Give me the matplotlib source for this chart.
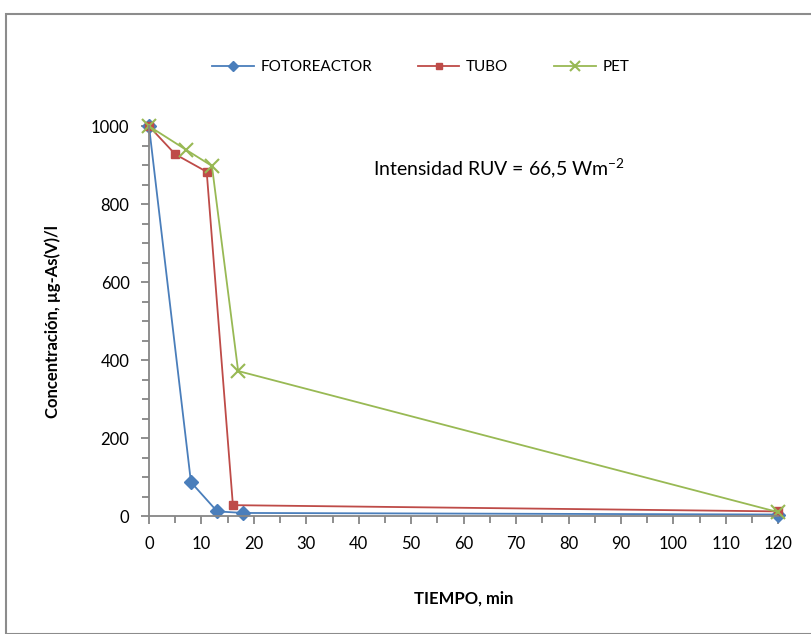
import matplotlib
matplotlib.use('Agg')
import matplotlib.pyplot as plt
from matplotlib.patches import Rectangle
from matplotlib.ticker import MultipleLocator

plt.rcParams['font.family'] = ['Lato', 'DejaVu Sans']

# data
t_foto = [0, 8, 13, 18, 120]
c_foto = [1000, 87, 12, 8, 4]
t_tubo = [0, 5, 11, 16, 120]
c_tubo = [1000, 928, 883, 28, 12]
t_pet = [0, 7, 12, 17, 120]
c_pet = [1000, 940, 898, 372, 10]

fig = plt.figure(figsize=(8.12, 6.34), dpi=100)
ax = fig.add_axes([0.1835, 0.186, 0.775, 0.615])

ax.plot(t_foto, c_foto, color='#4A7EBB', marker='D', markersize=7.5, lw=1.3, label='FOTOREACTOR', clip_on=False)
ax.plot(t_tubo, c_tubo, color='#BE4B48', marker='s', markersize=6, lw=1.3, label='TUBO', clip_on=False)
ax.plot(t_pet, c_pet, color='#98B954', marker='x', markersize=10, mew=1.5, lw=1.3, label='PET', clip_on=False)

ax.set_xlim(0, 120)
ax.set_ylim(0, 1000)
ax.xaxis.set_major_locator(MultipleLocator(10))
ax.xaxis.set_minor_locator(MultipleLocator(5))
ax.yaxis.set_major_locator(MultipleLocator(200))
ax.yaxis.set_minor_locator(MultipleLocator(50))

for s in ['top', 'right']:
    ax.spines[s].set_visible(False)
for s in ['left', 'bottom']:
    ax.spines[s].set_color('#868686')
    ax.spines[s].set_linewidth(1.3)
ax.tick_params(which='both', color='#868686', width=1.3, labelsize=12)
ax.tick_params(which='major', length=6, pad=8)
ax.tick_params(which='minor', length=5)

ax.set_xlabel('TIEMPO, min', fontsize=12, fontweight='bold', labelpad=28)
ax.set_ylabel('Concentración, µg-As(V)/l', fontsize=12, fontweight='bold', labelpad=22)

ax.text(0.356, 0.875, r'Intensidad RUV = 66,5 Wm$\mathregular{^{-2}}$', transform=ax.transAxes, fontsize=14)

leg = ax.legend(loc='center', ncol=3, frameon=False, fontsize=11, columnspacing=3.0,
                handlelength=2.7, handletextpad=0.45, markerscale=0.7)
leg.set_bbox_to_anchor((0.432, 1.151), transform=ax.transAxes)

fig.patches.append(Rectangle((6 / 812, 0), 1, 1 - 14 / 634, transform=fig.transFigure,
                             fill=False, edgecolor='#8c8c8c', lw=1.5))

fig.savefig('out.png', dpi=100)
